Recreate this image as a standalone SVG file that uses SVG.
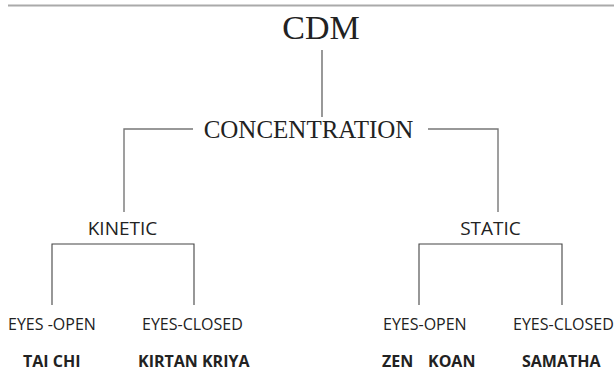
<svg xmlns="http://www.w3.org/2000/svg" width="614" height="371" viewBox="0 0 614 371">
<style>
.serif{font-family:"Liberation Serif","Times New Roman",serif;fill:#222}
.sans{font-family:"Open Sans","Noto Sans",sans-serif;fill:#222}
.b{font-weight:bold}
.ln{fill:none;stroke:#444;stroke-width:1.1}
.gl{fill:none;stroke:#777;stroke-width:1.4}
</style>
<rect width="614" height="371" fill="#fff"/>
<line x1="8" y1="5.5" x2="614" y2="5.5" stroke="#aaa" stroke-width="2"/>
<g id="connectors">
<line class="ln" x1="322" y1="50" x2="322" y2="117"/>
<path class="gl" d="M193,129 H124 V212"/>
<path class="gl" d="M428,129 H498 V212"/>
<path class="ln" d="M52,305 V244 H194 V305"/>
<path class="ln" d="M419,305 V244 H562 V305"/>
</g>
<g id="cdm"><text class="serif" x="321" y="39" font-size="34" text-anchor="middle">CDM</text></g>
<g id="concentration"><text class="serif" x="308.5" y="138" font-size="25" text-anchor="middle">CONCENTRATION</text></g>
<g id="kinetic"><text class="sans" x="122.5" y="235" font-size="19" text-anchor="middle">KINETIC</text></g>
<g id="static"><text class="sans" x="490.5" y="235" font-size="19" text-anchor="middle">STATIC</text></g>
<g id="k-open"><text class="sans" x="8" y="329.5" font-size="16">EYES -OPEN</text></g>
<g id="k-closed"><text class="sans" x="142" y="329.5" font-size="16">EYES-CLOSED</text></g>
<g id="s-open"><text class="sans" x="383" y="329.5" font-size="16">EYES-OPEN</text></g>
<g id="s-closed"><text class="sans" x="513" y="329.5" font-size="16">EYES-CLOSED</text></g>
<g id="taichi"><text class="sans b" x="23" y="367" font-size="16">TAI CHI</text></g>
<g id="kirtan"><text class="sans b" x="138" y="367" font-size="16">KIRTAN KRIYA</text></g>
<g id="zen"><text class="sans b" x="382" y="367" font-size="16">ZEN<tspan x="428">KOAN</tspan></text></g>
<g id="samatha"><text class="sans b" x="522" y="367" font-size="16">SAMATHA</text></g>
</svg>
